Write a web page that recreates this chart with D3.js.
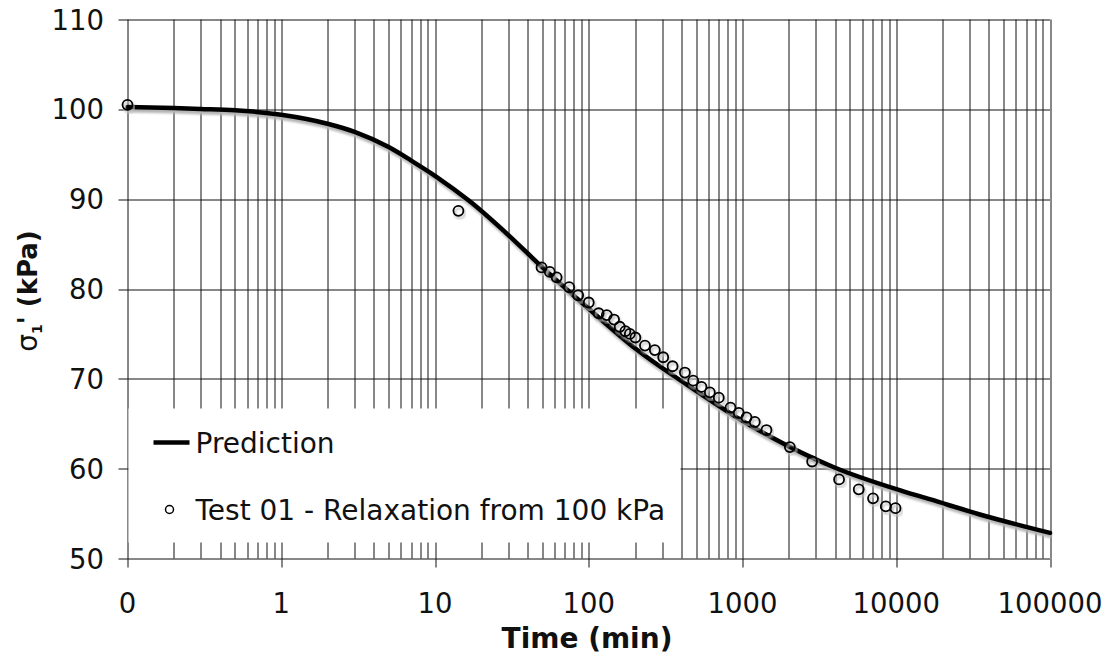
<!DOCTYPE html>
<html>
<head>
<meta charset="utf-8">
<script src="https://cdn.jsdelivr.net/npm/d3@7"></script>
<style>
  body { margin: 0; background: #fff; }
  svg { display: block; font-family: "DejaVu Sans", Verdana, sans-serif; }
</style>
</head>
<body>
<div id="chart"></div>
<script>
// prediction curve, time (min) vs sigma'1 (kPa)
const predTime = [0.1, 0.2, 0.3, 0.5, 1, 2, 3, 5, 7, 10, 17, 30, 50, 100, 200, 430, 900, 1500, 4000, 11000, 16500, 35000, 100000];
const predStress = [100.25, 100.15, 100.05, 99.9, 99.4, 98.4, 97.5, 95.8, 94.3, 92.6, 89.7, 86.0, 82.4, 77.8, 73.4, 69.4, 65.8, 63.6, 60.1, 57.5, 56.6, 54.9, 52.85];

// Test 01 - relaxation from 100 kPa
const testTime = [0.1, 14.2, 49.3, 55.8, 61.8, 74.6, 85.3, 100, 116, 131, 146, 159, 173, 185, 201, 232, 269, 305, 351, 422, 478, 541, 613, 701, 836, 946, 1062, 1202, 1432, 2032, 2837, 4246, 5702, 7063, 8551, 9886];
const testStress = [100.5, 88.7, 82.4, 81.9, 81.3, 80.2, 79.3, 78.5, 77.3, 77.1, 76.6, 75.8, 75.3, 75.0, 74.6, 73.7, 73.2, 72.4, 71.4, 70.7, 69.8, 69.1, 68.5, 67.9, 66.8, 66.2, 65.7, 65.2, 64.3, 62.4, 60.8, 58.8, 57.7, 56.7, 55.8, 55.6];

const xTickValues = [0.1, 1, 10, 100, 1000, 10000, 100000];
const xTickLabels = ["0", "1", "10", "100", "1000", "10000", "100000"];
const yTickValues = [50, 60, 70, 80, 90, 100, 110];

const svgWidth = 1111, svgHeight = 661;
const margin = { top: 19.5, right: 61, bottom: 102.5, left: 127.5 };
const width = svgWidth - margin.left - margin.right;
const height = svgHeight - margin.top - margin.bottom;

const svg = d3.select("#chart").append("svg")
    .attr("width", svgWidth)
    .attr("height", svgHeight);

const defs = svg.append("defs");
defs.append("filter").attr("id", "blur")
    .append("feGaussianBlur").attr("stdDeviation", 1);

const chart = svg.append("g")
    .attr("transform", `translate(${margin.left},${margin.top})`);

const x = d3.scaleLog().domain([0.1, 100000]).range([0, width]);
const y = d3.scaleLinear().domain([50, 110]).range([height, 0]);

const gridColor = "#111";

// vertical log grid (minor + major)
chart.selectAll(".xgrid")
    .data(x.ticks())
    .join("line")
    .attr("class", "xgrid")
    .attr("x1", d => Math.round(x(d)) + 0.5)
    .attr("x2", d => Math.round(x(d)) + 0.5)
    .attr("y1", 0)
    .attr("y2", height)
    .attr("stroke", gridColor)
    .attr("stroke-width", 1);

// horizontal grid + outside ticks
chart.selectAll(".ygrid")
    .data(yTickValues)
    .join("line")
    .attr("class", "ygrid")
    .attr("x1", -9)
    .attr("x2", width)
    .attr("y1", d => Math.round(y(d)) + 0.5)
    .attr("y2", d => Math.round(y(d)) + 0.5)
    .attr("stroke", gridColor)
    .attr("stroke-width", 1);

// major x ticks below axis
chart.selectAll(".xmajor")
    .data(xTickValues)
    .join("line")
    .attr("class", "xmajor")
    .attr("x1", d => Math.round(x(d)) + 0.5)
    .attr("x2", d => Math.round(x(d)) + 0.5)
    .attr("y1", height)
    .attr("y2", height + 9)
    .attr("stroke", gridColor);

// tick labels
chart.selectAll(".xlab")
    .data(xTickValues)
    .join("text")
    .attr("class", "xlab")
    .attr("x", d => x(d))
    .attr("y", height + 54)
    .attr("text-anchor", "middle")
    .attr("font-size", 27.5)
    .attr("fill", "#111")
    .text((d, i) => xTickLabels[i]);

chart.selectAll(".ylab")
    .data(yTickValues)
    .join("text")
    .attr("class", "ylab")
    .attr("x", -23.5)
    .attr("y", d => y(d) + 10)
    .attr("text-anchor", "end")
    .attr("font-size", 27.5)
    .attr("fill", "#111")
    .text(d => d);

// legend box hides the grid
const legend = chart.append("g");
legend.append("rect")
    .attr("x", 1)
    .attr("y", 389)
    .attr("width", 552)
    .attr("height", 134)
    .attr("fill", "#fff");

// prediction curve with soft shadow
const line = d3.line()
    .x((d, i) => x(predTime[i]))
    .y((d, i) => y(predStress[i]))
    .curve(d3.curveMonotoneX);

chart.append("path")
    .datum(predTime)
    .attr("d", line)
    .attr("fill", "none")
    .attr("stroke", "#b5b5b5")
    .attr("stroke-width", 5)
    .attr("filter", "url(#blur)")
    .attr("transform", "translate(1.5,3)");

chart.append("path")
    .datum(predTime)
    .attr("d", line)
    .attr("fill", "none")
    .attr("stroke", "#000")
    .attr("stroke-width", 4.5)
    .attr("stroke-linecap", "round");

// test points with shadow
chart.selectAll(".ptshadow")
    .data(testTime)
    .join("circle")
    .attr("class", "ptshadow")
    .attr("cx", d => x(d) + 1.5)
    .attr("cy", (d, i) => y(testStress[i]) + 2.5)
    .attr("r", 5)
    .attr("fill", "none")
    .attr("stroke", "#c0c0c0")
    .attr("stroke-width", 2)
    .attr("filter", "url(#blur)");

chart.selectAll(".pt")
    .data(testTime)
    .join("circle")
    .attr("class", "pt")
    .attr("cx", d => x(d))
    .attr("cy", (d, i) => y(testStress[i]))
    .attr("r", 5)
    .attr("fill", "none")
    .attr("stroke", "#000")
    .attr("stroke-width", 1.8);

// legend entries
legend.append("line")
    .attr("x1", 26).attr("x2", 62)
    .attr("y1", 423).attr("y2", 423)
    .attr("stroke", "#000")
    .attr("stroke-width", 4.5);
legend.append("text")
    .attr("x", 68).attr("y", 433)
    .attr("font-size", 28)
    .attr("fill", "#111")
    .text("Prediction");
legend.append("circle")
    .attr("cx", 42).attr("cy", 490)
    .attr("r", 4)
    .attr("fill", "none")
    .attr("stroke", "#000")
    .attr("stroke-width", 1.5);
legend.append("text")
    .attr("x", 68).attr("y", 500)
    .attr("font-size", 28)
    .attr("fill", "#111")
    .text("Test 01 - Relaxation from 100 kPa");

// axis titles
svg.append("text")
    .attr("x", 587)
    .attr("y", 648)
    .attr("text-anchor", "middle")
    .attr("font-size", 28)
    .attr("font-weight", "bold")
    .attr("fill", "#111")
    .text("Time (min)");

const yTitle = svg.append("text")
    .attr("transform", "translate(37,291) rotate(-90)")
    .attr("text-anchor", "middle")
    .attr("font-size", 26)
    .attr("font-weight", "bold")
    .attr("fill", "#111");
yTitle.append("tspan").attr("font-weight", "normal").attr("font-size", 28).text("σ");
yTitle.append("tspan").attr("font-size", 14).attr("dy", 5).text("1");
yTitle.append("tspan").attr("dy", -5).text("' (kPa)");
</script>
</body>
</html>
